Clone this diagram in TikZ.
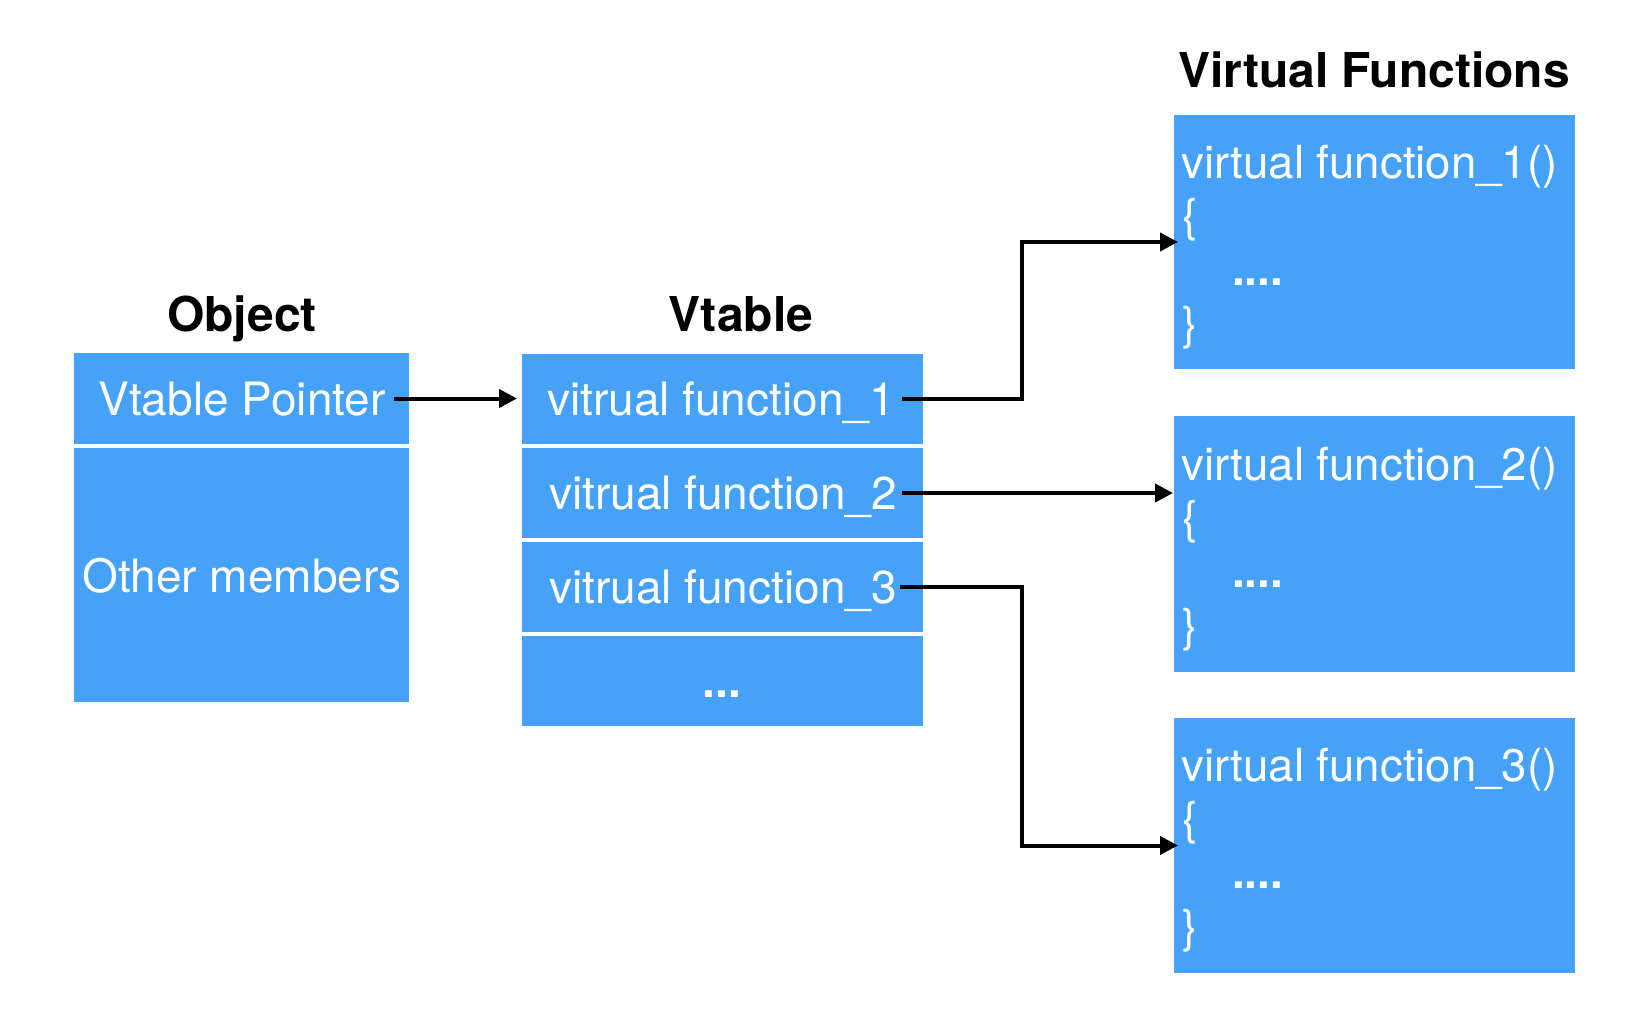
\documentclass[tikz,border=0pt]{standalone}
\usepackage{fontspec}
\setmainfont{TeX Gyre Heros}
\usetikzlibrary{arrows.meta}
\definecolor{cellblue}{RGB}{69,162,248}
\begin{document}
\begin{tikzpicture}[x=1pt,y=-1pt,
  cellbox/.style={rectangle, fill=cellblue, draw=none, inner sep=0pt, outer sep=0pt},
  celltext/.style={text=white, font=\fontsize{46}{54}\selectfont, anchor=base, inner sep=0pt},
  codetext/.style={text=white, font=\fontsize{45.6}{54}\selectfont, anchor=base west, inner sep=0pt},
  titletext/.style={text=black, font=\bfseries\fontsize{48}{54}\selectfont, anchor=base, inner sep=0pt},
  link/.style={draw=black, line width=4pt, -{Triangle[length=18pt,width=18pt]}}]
\useasboundingbox[fill=white] (0,0) rectangle (1642,1024);

% titles
\node[titletext] (tobj) at (242,332) {Object};
\node[titletext] (tvt) at (741,332) {Vtable};
\node[titletext] (tvf) at (1374,88) {Virtual Functions};

% object
\node[cellbox, minimum width=335pt, minimum height=91pt] (ptr) at (241.5,398.5) {};
\node[cellbox, minimum width=335pt, minimum height=254pt] (oth) at (241.5,575) {};
\node[celltext] (ptrt) at (242,415) {Vtable Pointer};
\node[celltext] (otht) at (242,592) {Other members};

% vtable
\node[cellbox, minimum width=401pt, minimum height=90pt] (v1) at (722.5,399) {};
\node[cellbox, minimum width=401pt, minimum height=90pt] (v2) at (722.5,493) {};
\node[cellbox, minimum width=401pt, minimum height=90pt] (v3) at (722.5,587) {};
\node[cellbox, minimum width=401pt, minimum height=90pt] (v4) at (722.5,681) {};
\node[celltext] (v1t) at (721,415) {vitrual function\_1};
\node[celltext] (v2t) at (723,509) {vitrual function\_2};
\node[celltext] (v3t) at (723,603) {vitrual function\_3};
\node[celltext, font=\bfseries\fontsize{46}{54}\selectfont] (v4t) at (722,697) {...};

% virtual functions
\node[cellbox, minimum width=401pt, minimum height=254pt] (f1) at (1374.5,242) {};
\node[cellbox, minimum width=401pt, minimum height=256pt] (f2) at (1374.5,544) {};
\node[cellbox, minimum width=401pt, minimum height=255pt] (f3) at (1374.5,845.5) {};

\node[codetext] (f1a) at (1181,179) {virtual function\_1()};
\node[codetext] (f1b) at (1182,232) {\{};
\node[codetext, font=\bfseries\fontsize{45.6}{54}\selectfont] (f1c) at (1232,286) {....};
\node[codetext] (f1d) at (1182,340) {\}};

\node[codetext] (f2a) at (1181,480) {virtual function\_2()};
\node[codetext] (f2b) at (1182,533) {\{};
\node[codetext, font=\bfseries\fontsize{45.6}{54}\selectfont] (f2c) at (1232,587) {....};
\node[codetext] (f2d) at (1182,641) {\}};

\node[codetext] (f3a) at (1181,781) {virtual function\_3()};
\node[codetext] (f3b) at (1182,834) {\{};
\node[codetext, font=\bfseries\fontsize{45.6}{54}\selectfont] (f3c) at (1232,888) {....};
\node[codetext] (f3d) at (1182,942) {\}};

% connectors
\draw[link] ([xshift=-15pt]ptr.east) -- ([xshift=-5pt]ptr.east -| v1.west);
\draw[link] ([xshift=-21pt]v1.east) -- ++(120,0) |- ([xshift=4pt]f1.west);
\draw[link] ([xshift=-21pt]v2.east) -- ([xshift=-1pt]v2.east -| f2.west);
\draw[link] ([xshift=-23pt]v3.east) -- ++(122,0) |- ([xshift=4pt]f3.west);
\end{tikzpicture}
\end{document}
